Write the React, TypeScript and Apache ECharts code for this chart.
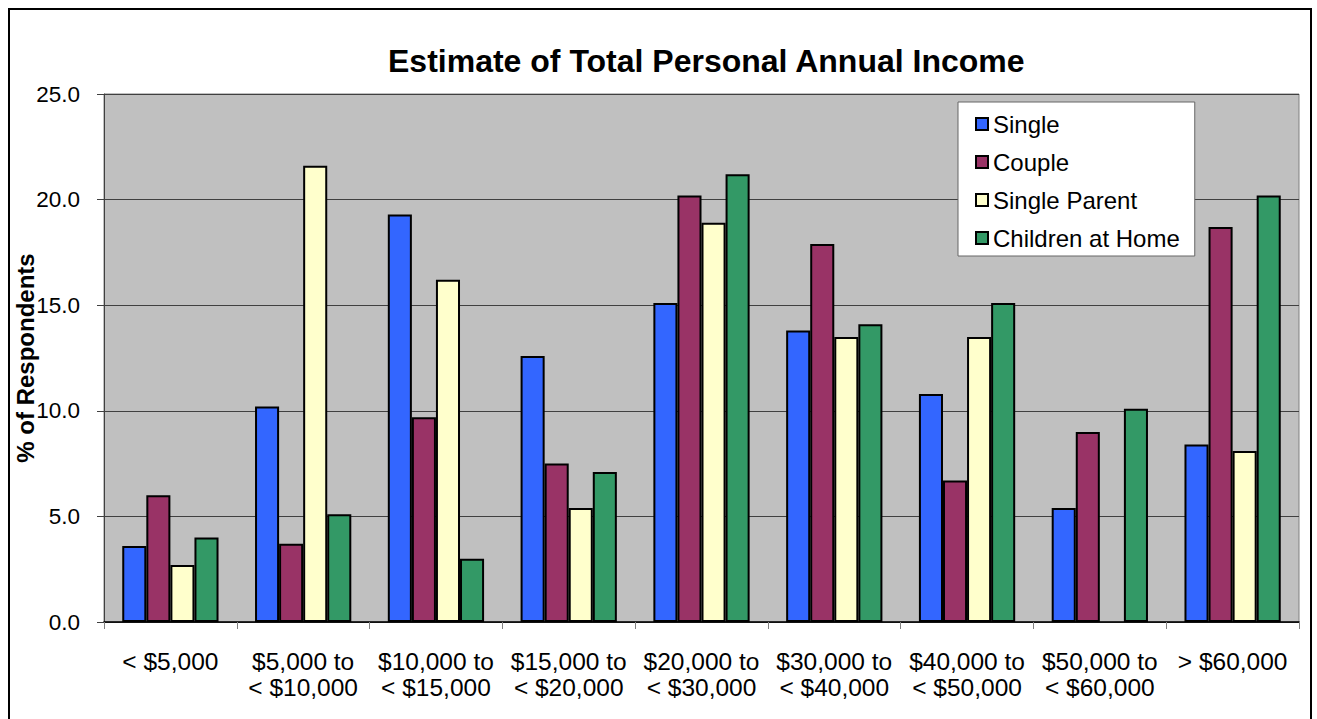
import React, { useEffect, useRef } from "react";
import * as echarts from "echarts";

const categories = [
  "< $5,000",
  "$5,000 to\n< $10,000",
  "$10,000 to\n< $15,000",
  "$15,000 to\n< $20,000",
  "$20,000 to\n< $30,000",
  "$30,000 to\n< $40,000",
  "$40,000 to\n< $50,000",
  "$50,000 to\n< $60,000",
  "> $60,000",
];
const single = [3.6, 10.2, 19.3, 12.6, 15.1, 13.8, 10.8, 5.4, 8.4];
const couple = [6.0, 3.7, 9.7, 7.5, 20.2, 17.9, 6.7, 9.0, 18.7];
const singleParent = [2.7, 21.6, 16.2, 5.4, 18.9, 13.5, 13.5, null, 8.1];
const childrenAtHome = [4.0, 5.1, 3.0, 7.1, 21.2, 14.1, 15.1, 10.1, 20.2];

const seriesNames = ["Single", "Couple", "Single Parent", "Children at Home"];
const seriesColors = ["#3366FF", "#993366", "#FFFFCC", "#339966"];
const seriesData = [single, couple, singleParent, childrenAtHome];

const FONT = "'Liberation Sans', Arial, Helvetica, sans-serif";

export default function App() {
  const ref = useRef<HTMLDivElement>(null);
  useEffect(() => {
    if (!ref.current) return;
    const chart = echarts.init(ref.current, null, { renderer: "svg" });
    chart.setOption({
      animation: false,
      backgroundColor: "#ffffff",
      textStyle: { fontFamily: FONT },
      title: {
        text: "Estimate of Total Personal Annual Income",
        left: 388,
        top: 45,
        padding: 0,
        textStyle: { fontFamily: FONT, fontSize: 32, fontWeight: "bold", color: "#000" },
      },
      graphic: [
        {
          type: "rect",
          shape: { x: 9, y: 9, width: 1302, height: 760 },
          style: { fill: "none", stroke: "#000", lineWidth: 2 },
          silent: true,
          z: 100,
        },
      ],
      legend: {
        orient: "vertical",
        left: 958,
        top: 102,
        padding: [9, 15, 5, 17],
        backgroundColor: "#ffffff",
        borderColor: "#666666",
        borderWidth: 1,
        itemWidth: 12,
        itemHeight: 12,
        itemGap: 12,
        icon: "rect",
        textStyle: { fontFamily: FONT, fontSize: 24, color: "#000", lineHeight: 26 },
        data: seriesNames,
      },
      grid: {
        left: 104,
        right: 18,
        top: 94,
        bottom: 97,
        show: true,
        outerBoundsMode: "none",
        containLabel: false,
        backgroundColor: "#C0C0C0",
        borderColor: "#808080",
        borderWidth: 1,
      },
      xAxis: {
        type: "category",
        data: categories,
        axisLine: { show: true, lineStyle: { color: "#000", width: 1.5 } },
        axisTick: { show: true, length: 7, lineStyle: { color: "#808080" } },
        axisLabel: {
          interval: 0,
          margin: 26,
          fontFamily: FONT,
          fontSize: 24.5,
          lineHeight: 26,
          color: "#000",
          hideOverlap: false,
        },
      },
      yAxis: {
        type: "value",
        min: 0,
        max: 25,
        interval: 5,
        name: "% of Respondents",
        nameLocation: "middle",
        nameGap: 67,
        nameMoveOverlap: false,
        nameTextStyle: { fontFamily: FONT, fontSize: 24, fontWeight: "bold", color: "#000" },
        axisLine: { show: true, lineStyle: { color: "#404040", width: 1 } },
        axisTick: { show: true, length: 7, lineStyle: { color: "#404040" } },
        axisLabel: {
          margin: 24,
          fontFamily: FONT,
          fontSize: 22.5,
          color: "#000",
          formatter: (v: number) => v.toFixed(1),
        },
        splitLine: { show: true, lineStyle: { color: "#404040", width: 1 } },
      },
      series: seriesNames.map((name, i) => ({
        name,
        type: "bar",
        data: seriesData[i],
        barGap: "0%",
        barCategoryGap: "27.5%",
        itemStyle: { color: seriesColors[i], borderColor: "#000", borderWidth: 2 },
      })),
    });
    return () => chart.dispose();
  }, []);
  return (
    <div
      ref={ref}
      style={{ position: "absolute", left: 0, top: 0, width: 1317, height: 719 }}
    />
  );
}
